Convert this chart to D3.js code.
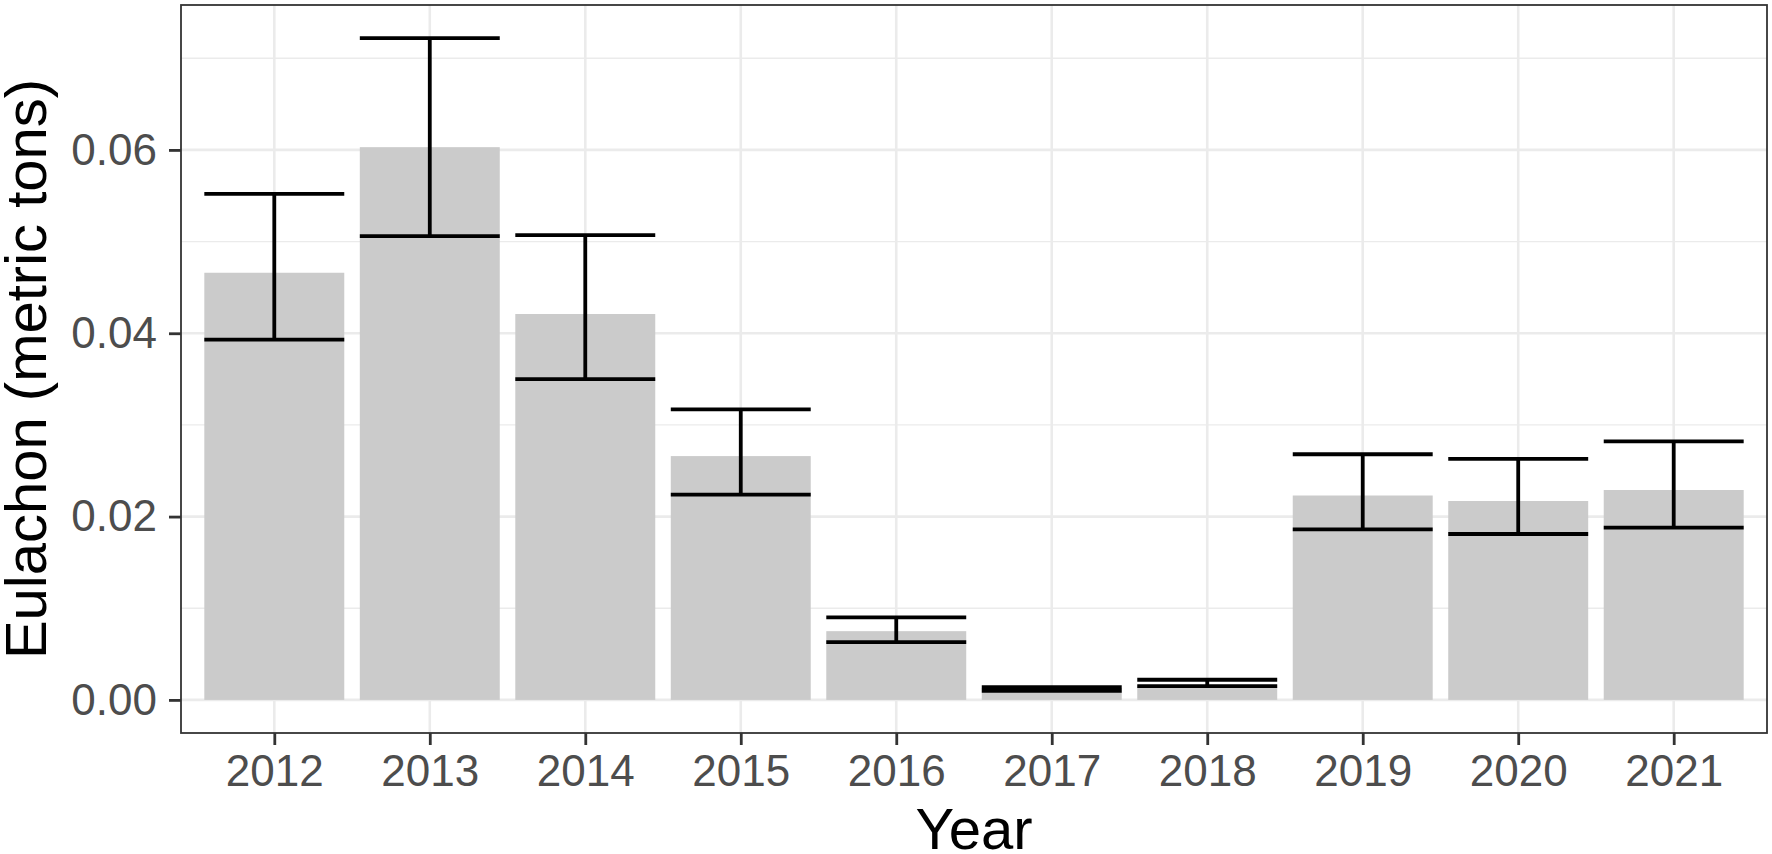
<!DOCTYPE html>
<html>
<head>
<meta charset="utf-8">
<script src="https://cdn.jsdelivr.net/npm/d3@7"></script>
<style>
  body { margin: 0; background: #fff; }
  svg { display: block; font-family: "Liberation Sans", Arial, sans-serif; }
</style>
</head>
<body>
<div id="canva"></div>
<script>
const years = ["2012", "2013", "2014", "2015", "2016", "2017", "2018", "2019", "2020", "2021"];
const catch_ = [0.0466, 0.0603, 0.0421, 0.0266, 0.0075, 0.0012, 0.0016, 0.0223, 0.0217, 0.0229];
const lower = [0.0393, 0.0506, 0.0350, 0.0224, 0.0063, 0.0010, 0.0015, 0.0186, 0.0181, 0.0188];
const upper = [0.0552, 0.0722, 0.0507, 0.0317, 0.0090, 0.0014, 0.0022, 0.0268, 0.0263, 0.0282];
const majorTicks = [0, 0.02, 0.04, 0.06];
const minorTicks = [0.01, 0.03, 0.05, 0.07];

const width = 1772;
const height = 854;
const margin = { top: 5, right: 5, bottom: 121, left: 181 };

const data = years.map((year, i) => ({ year, value: catch_[i], lo: lower[i], hi: upper[i] }));

const svg = d3.select("#canva").append("svg")
    .attr("width", width)
    .attr("height", height)
    .attr("viewBox", [0, 0, width, height]);

const x = d3.scalePoint()
    .domain(years)
    .range([margin.left, width - margin.right])
    .padding(0.6);

const barW = x.step() * 0.9;

// ggplot style 5% expansion around [0, max]
const yMax = d3.max(upper);
const y = d3.scaleLinear()
    .domain([-0.05 * yMax, 1.05 * yMax])
    .range([height - margin.bottom, margin.top]);

const plotL = margin.left, plotR = width - margin.right;
const plotT = margin.top, plotB = height - margin.bottom;

// grid
const grid = svg.append("g").attr("stroke", "#ebebeb").attr("fill", "none");
grid.selectAll(".minor")
    .data(minorTicks)
    .join("line")
        .attr("x1", plotL).attr("x2", plotR)
        .attr("y1", d => y(d)).attr("y2", d => y(d))
        .attr("stroke-width", 1.4);
grid.selectAll(".major")
    .data(majorTicks)
    .join("line")
        .attr("x1", plotL).attr("x2", plotR)
        .attr("y1", d => y(d)).attr("y2", d => y(d))
        .attr("stroke-width", 2.6);
grid.selectAll(".vmajor")
    .data(years)
    .join("line")
        .attr("x1", d => x(d)).attr("x2", d => x(d))
        .attr("y1", plotT).attr("y2", plotB)
        .attr("stroke-width", 2.6);

// bars
svg.append("g")
    .attr("fill", "#cbcbcb")
    .selectAll("rect")
    .data(data)
    .join("rect")
        .attr("x", d => x(d.year) - barW / 2)
        .attr("y", d => y(d.value))
        .attr("width", barW)
        .attr("height", d => y(0) - y(d.value));

// error bars
const err = svg.append("g").attr("stroke", "#000").attr("stroke-width", 3.8).attr("fill", "none");
data.forEach(d => {
    const cx = x(d.year);
    err.append("line").attr("x1", cx).attr("x2", cx).attr("y1", y(d.lo)).attr("y2", y(d.hi));
    err.append("line").attr("x1", cx - barW / 2).attr("x2", cx + barW / 2).attr("y1", y(d.hi)).attr("y2", y(d.hi));
    err.append("line").attr("x1", cx - barW / 2).attr("x2", cx + barW / 2).attr("y1", y(d.lo)).attr("y2", y(d.lo));
});

// panel border
svg.append("rect")
    .attr("x", plotL).attr("y", plotT)
    .attr("width", plotR - plotL).attr("height", plotB - plotT)
    .attr("fill", "none")
    .attr("stroke", "#333333")
    .attr("stroke-width", 1.8);

function yAxis(g) {
    g.attr("transform", `translate(${plotL}, 0)`)
        .call(d3.axisLeft(y).tickValues(majorTicks).tickFormat(d3.format(".2f")).tickSize(12).tickPadding(12))
        .call(g => g.select(".domain").remove());
    g.selectAll(".tick line").attr("stroke", "#333333").attr("stroke-width", 2.8);
    g.selectAll("text")
        .attr("fill", "#4d4d4d")
        .attr("font-size", "44px")
        .style("font-family", "'Liberation Sans', Arial, sans-serif");
}

function xAxis(g) {
    g.attr("transform", `translate(0, ${plotB})`)
        .call(d3.axisBottom(x).tickSize(12).tickPadding(10))
        .call(g => g.select(".domain").remove());
    g.selectAll(".tick line").attr("stroke", "#333333").attr("stroke-width", 2.8);
    g.selectAll("text")
        .attr("fill", "#4d4d4d")
        .attr("font-size", "44px")
        .style("font-family", "'Liberation Sans', Arial, sans-serif");
}

svg.append("g").call(yAxis);
svg.append("g").call(xAxis);

svg.append("text")
    .attr("text-anchor", "middle")
    .attr("x", (plotL + plotR) / 2)
    .attr("y", 849)
    .attr("font-size", "58px")
    .attr("fill", "#000")
    .text("Year");

svg.append("text")
    .attr("text-anchor", "middle")
    .attr("transform", `translate(46, ${(plotT + plotB) / 2}) rotate(-90)`)
    .attr("font-size", "58px")
    .attr("fill", "#000")
    .text("Eulachon (metric tons)");
</script>
</body>
</html>
